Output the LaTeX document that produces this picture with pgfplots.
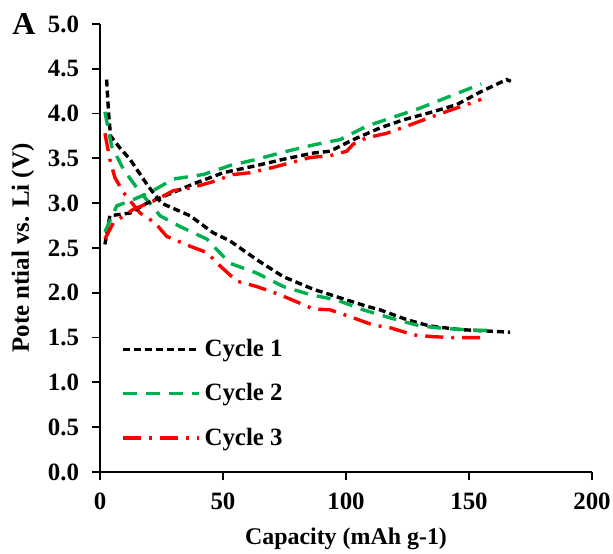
\documentclass[border=0pt]{standalone}
\usepackage{fontspec}
\setmainfont{Liberation Serif}
\usepackage{pgfplots}
\pgfplotsset{compat=1.18}
\definecolor{cgreen}{RGB}{0,176,80}
\definecolor{cred}{RGB}{255,0,0}

\begin{document}
\begin{tikzpicture}
\path[use as bounding box] (-50bp,-41bp) rectangle (256.5bp,236bp);
\begin{axis}[
  scale only axis,
  width=246bp, height=224bp,
  xmin=0, xmax=200, ymin=0, ymax=5,
  xtick={0,50,100,150,200},
  ytick={0,0.5,...,5.0},
  axis x line*=bottom, axis y line*=left,
  axis line style={line width=1bp},
  tick align=outside, major tick length=4bp,
  tick style={line width=0.9bp, black},
  yticklabel style={/pgf/number format/fixed, /pgf/number format/fixed zerofill, /pgf/number format/precision=1, xshift=-3bp},
  xticklabel style={yshift=-3bp},
  /pgf/number format/assume math mode=true,
  tick label style={font=\bfseries\fontsize{12.5}{13}\selectfont},
  xlabel={Capacity (mAh g-1)},
  ylabel={Pote ntial vs. Li (V)},
  xlabel style={font=\bfseries\fontsize{12}{13}\selectfont, yshift=-2bp},
  ylabel style={font=\bfseries\fontsize{12.5}{13}\selectfont, yshift=0bp},
  legend style={draw=none, fill=none, at={(0.03,0.315)}, anchor=north west,
    font=\bfseries\fontsize{12.5}{13}\selectfont, row sep=8bp},
  legend cell align=left,
  legend image code/.code={\draw[#1] (0bp,0bp) -- (38bp,0bp);},
]
\addplot[black, line width=1.7bp, dash pattern=on 3.5bp off 2bp] coordinates {
(2.7,4.38) (3.5,4.0) (4.3,3.75) (8,3.62) (12.2,3.49) (19.6,3.19) (25,3.0) (36.6,2.86) (46,2.67) (52.8,2.58) (63.7,2.37) (74.5,2.18) (86.7,2.04) (100.3,1.92) (108.4,1.85) (113.8,1.81) (124.7,1.70) (134,1.63) (146,1.59) (166.7,1.56)};
\addlegendentry{Cycle 1}
\addplot[cgreen, line width=1.7bp, dash pattern=on 7bp off 4.5bp] coordinates {
(2,4.02) (4.7,3.64) (9.5,3.38) (16.3,3.12) (20.3,3.0) (24.4,2.86) (32.5,2.74) (43.4,2.60) (52.8,2.33) (63.7,2.22) (74.5,2.07) (85.4,1.98) (96.2,1.92) (107,1.81) (118,1.72) (130,1.63) (141,1.60) (154.5,1.58) (158,1.58)};
\addlegendentry{Cycle 2}
\addplot[cred, line width=1.7bp, dash pattern=on 9bp off 4bp on 1.5bp off 4bp] coordinates {
(2,3.78) (4,3.49) (6,3.29) (9.5,3.12) (16.3,2.89) (22.4,2.78) (27.1,2.63) (36.6,2.52) (43.4,2.45) (48.8,2.30) (55.6,2.13) (63.7,2.07) (73,1.98) (86.7,1.82) (93.5,1.81) (103,1.72) (111,1.64) (118,1.61) (127.4,1.53) (135.5,1.51) (143.6,1.50) (154.5,1.50)};
\addlegendentry{Cycle 3}
% charge branches
\addplot[black, line width=1.7bp, dash pattern=on 3.5bp off 2bp, forget plot] coordinates {
(2,2.54) (4,2.86) (12.2,2.89) (19,3.0) (29.8,3.12) (39.3,3.23) (50.1,3.34) (63.7,3.42) (74.5,3.49) (86.7,3.56) (93.5,3.58) (103,3.71) (113.8,3.84) (123.3,3.93) (134,4.01) (145,4.10) (154.5,4.24) (165.3,4.38) (167,4.36)};
\addplot[cgreen, line width=1.7bp, dash pattern=on 7bp off 4.5bp, forget plot] coordinates {
(2,2.68) (6.8,2.97) (13.5,3.04) (20.3,3.12) (29.8,3.27) (42,3.32) (52.8,3.42) (63.7,3.49) (74.5,3.57) (86.7,3.65) (97.6,3.71) (108.4,3.86) (119.2,3.96) (130,4.06) (141,4.18) (153,4.31) (155,4.33)};
\addplot[cred, line width=1.7bp, dash pattern=on 9bp off 4bp on 1.5bp off 4bp, forget plot] coordinates {
(2,2.60) (5.4,2.78) (13.5,2.93) (23,3.04) (29.8,3.14) (36.6,3.17) (44.7,3.23) (54.2,3.32) (61,3.34) (70.4,3.40) (85.4,3.51) (93.5,3.53) (100.3,3.58) (103,3.66) (108.4,3.73) (116.5,3.78) (124.7,3.86) (131.5,3.93) (139.5,4.01) (149,4.10) (155,4.16)};
\end{axis}
\node[font=\bfseries\fontsize{16}{16}\selectfont] at (-38bp,224bp) {A};
\end{tikzpicture}
\end{document}
